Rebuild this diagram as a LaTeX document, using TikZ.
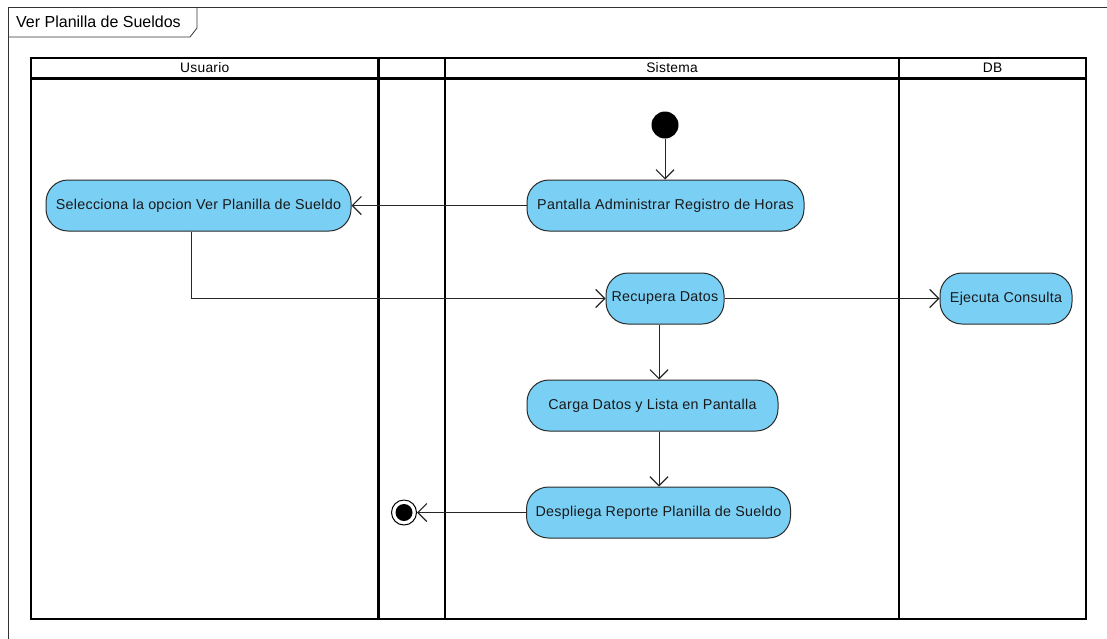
\documentclass[tikz,border=0pt]{standalone}
\usepackage{fontspec}
\setmainfont{Liberation Sans}
\newfontfamily\uifont[LetterSpace=2]{Liberation Sans}
\usetikzlibrary{arrows.meta}
\definecolor{actfill}{HTML}{7ACFF5}
\definecolor{actline}{HTML}{2A2A2A}
\tikzset{
  act/.style={draw=actline, line width=1pt, fill=actfill, rounded corners=22pt,
    minimum height=51pt, inner sep=0pt, font=\uifont\fontsize{14.3}{17}\selectfont, text=black!90},
  lane/.style={line width=2.6pt, draw=black},
  frameline/.style={line width=0.8pt, draw=black!80},
  flow/.style={line width=0.9pt, draw=black!85,
    -{Straight Barb[length=9pt,width=18pt,line width=1.2pt]}},
  hdr/.style={font=\uifont\fontsize{13.8}{16}\selectfont, inner sep=0pt},
}
\begin{document}
\begin{tikzpicture}[x=1pt,y=-1pt]
\useasboundingbox (0,0) rectangle (1107,638);
% outer frame (clipped)
\draw[frameline] (8,640) -- (8,7) -- (1108,7);
\draw[frameline] (8,37) -- (190,37) -- (197,28) -- (197,7);
\node[anchor=west, font=\fontsize{16}{18}\selectfont, inner sep=0pt] (title) at (16,22) {Ver Planilla de Sueldos};
% swimlanes
\draw[lane] (31,58) rectangle (1086,619);
\draw[lane] (31,78.5) -- (1086,78.5);
\draw[lane] (378.5,58) -- (378.5,619);
\draw[lane] (445,58) -- (445,619);
\draw[lane] (899,58) -- (899,619);
\node[hdr] (hU) at (204.75,68) {Usuario};
\node[hdr] (hS) at (672,68) {Sistema};
\node[hdr] (hD) at (992.5,68) {DB};
% nodes
\node[circle, fill=black, minimum size=27pt, inner sep=0pt] (start) at (665,125) {};
\node[act, minimum width=277pt] (pant) at (665.5,205.5) {Pantalla Administrar Registro de Horas};
\node[act, minimum width=305pt] (sel) at (198.5,205.5) {Selecciona la opcion Ver Planilla de Sueldo};
\node[act, minimum width=118pt] (rec) at (665,298.5) {Recupera Datos};
\node[act, minimum width=132pt] (ejec) at (1006,298.5) {Ejecuta Consulta};
\node[act, minimum width=251pt] (carga) at (652.5,405.5) {Carga Datos y Lista en Pantalla};
\node[act, minimum width=264pt] (desp) at (658.5,512.5) {Despliega Reporte Planilla de Sueldo};
\node[circle, draw=black, line width=1pt, fill=white, minimum size=25pt, inner sep=0pt] (end) at (404,512.5) {};
\node[circle, fill=black, minimum size=17pt, inner sep=0pt] (endin) at (end.center) {};
\coordinate (colx) at (659,0);
\coordinate (selx) at (191.5,0);
% connectors
\draw[flow] (start) -- (pant.north -| start);
\draw[flow] (pant.west) -- (sel.east);
\draw[flow] (sel.south -| selx) |- (rec.west);
\draw[flow] (rec.east) -- (ejec.west);
\draw[flow] (rec.south -| colx) -- (carga.north -| colx);
\draw[flow] (carga.south -| colx) -- (desp.north -| colx);
\draw[flow] (desp.west) -- (end.east);
\end{tikzpicture}
\end{document}
